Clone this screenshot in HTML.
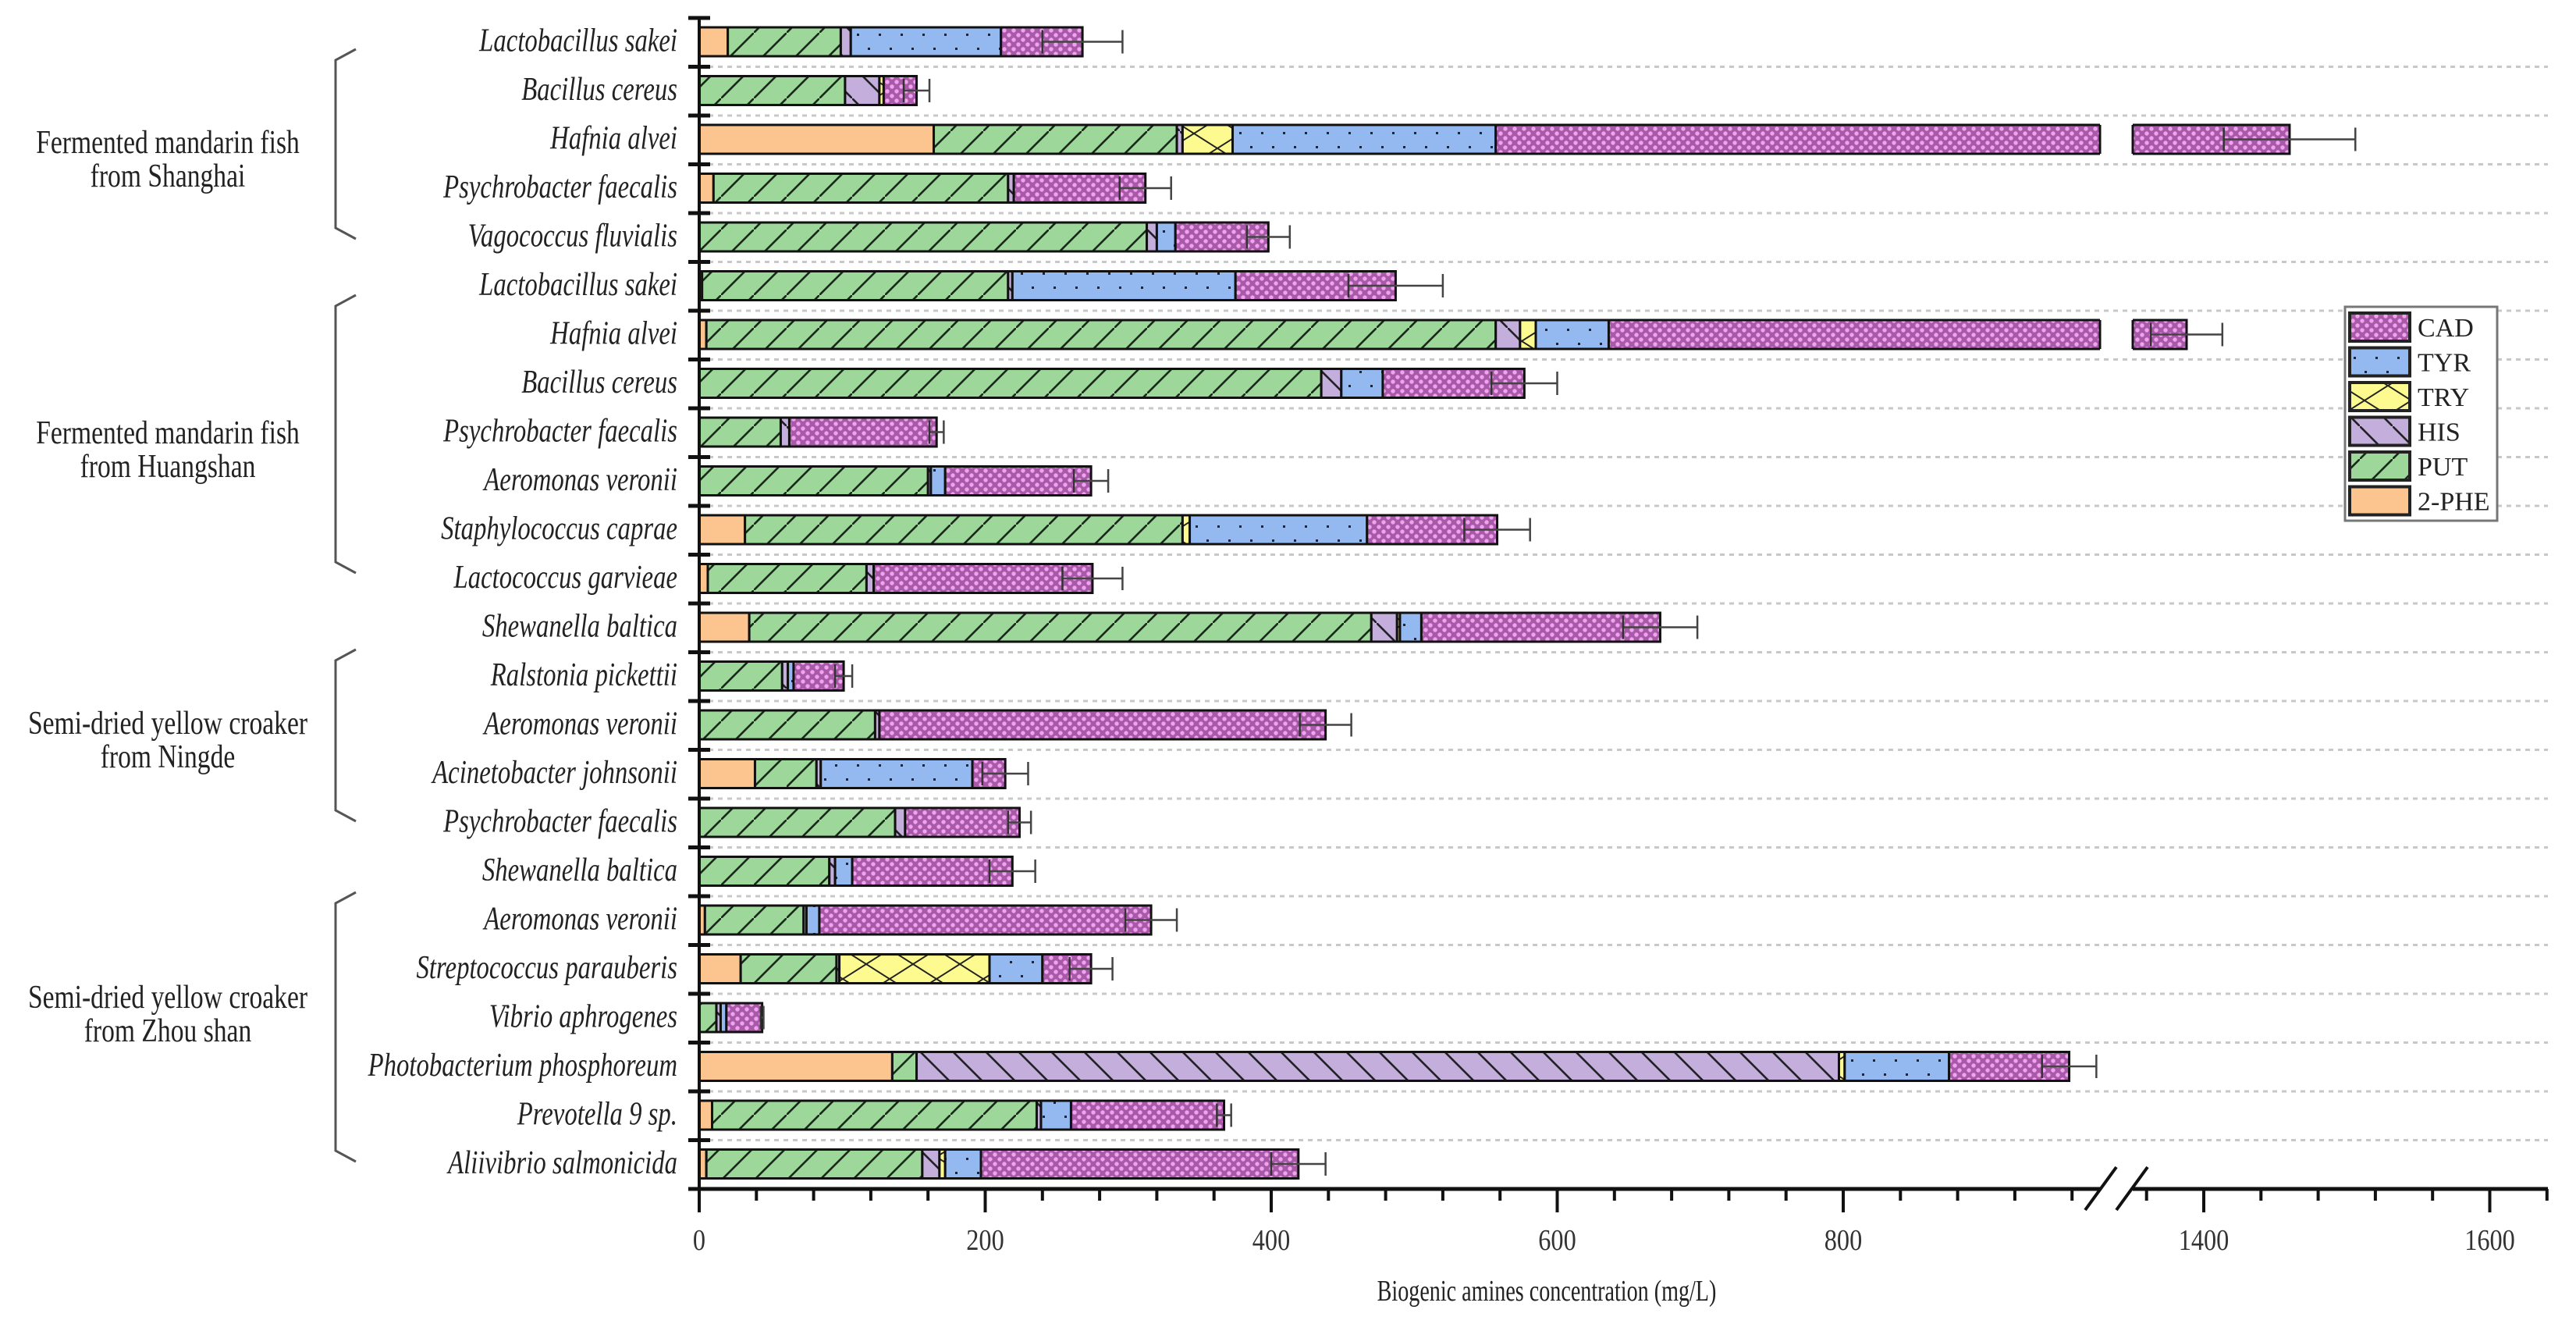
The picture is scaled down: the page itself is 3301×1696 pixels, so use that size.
<!DOCTYPE html>
<html><head><meta charset="utf-8"><title>Biogenic amines chart</title>
<style>
html,body{margin:0;padding:0;background:#fff;}
svg{display:block;font-family:"Liberation Serif","Times New Roman",serif;}
</style></head>
<body>
<svg id="chart" width="3301" height="1696" viewBox="0 0 3301 1696" xmlns="http://www.w3.org/2000/svg">
<defs>
  <pattern id="p-put" patternUnits="userSpaceOnUse" width="42" height="42">
    <rect width="42" height="42" fill="#9dd79a"/>
    <line x1="0" y1="42" x2="42" y2="0" stroke="#1a2a1a" stroke-width="2.6"/>
  </pattern>
  <pattern id="p-his" patternUnits="userSpaceOnUse" width="42" height="42">
    <rect width="42" height="42" fill="#c4afdc"/>
    <line x1="0" y1="0" x2="42" y2="42" stroke="#222" stroke-width="2.6"/>
  </pattern>
  <pattern id="p-try" patternUnits="userSpaceOnUse" width="60" height="38">
    <rect width="60" height="38" fill="#fdfb90"/>
    <line x1="0" y1="0" x2="60" y2="38" stroke="#222" stroke-width="2"/>
    <line x1="0" y1="38" x2="60" y2="0" stroke="#222" stroke-width="2"/>
  </pattern>
  <pattern id="p-tyr" patternUnits="userSpaceOnUse" width="28" height="36">
    <rect width="28" height="36" fill="#94b8f0"/>
    <rect x="6" y="7" width="3" height="3" fill="#223"/>
    <rect x="20" y="25" width="3" height="3" fill="#223"/>
  </pattern>
  <pattern id="p-cad" patternUnits="userSpaceOnUse" width="12" height="12">
    <rect width="12" height="12" fill="#a85aa8"/>
    <circle cx="3" cy="3" r="2.7" fill="#f0a2ee"/>
    <circle cx="9" cy="9" r="2.7" fill="#f0a2ee"/>
  </pattern>
</defs>
<g id="grid"></g>
<g id="bars"></g>
<g id="axes"></g>
<g id="labels"></g>
<g id="groups"></g>
<text transform="translate(1982,1666) scale(0.74,1)" font-size="38" text-anchor="middle" fill="#222">Biogenic amines concentration (mg/L)</text>
<g id="legend"></g>
</svg>
<script>
const categories = ["Lactobacillus sakei","Bacillus cereus","Hafnia alvei","Psychrobacter faecalis","Vagococcus fluvialis","Lactobacillus sakei","Hafnia alvei","Bacillus cereus","Psychrobacter faecalis","Aeromonas veronii","Staphylococcus caprae","Lactococcus garvieae","Shewanella baltica","Ralstonia pickettii","Aeromonas veronii","Acinetobacter johnsonii","Psychrobacter faecalis","Shewanella baltica","Aeromonas veronii","Streptococcus parauberis","Vibrio aphrogenes","Photobacterium phosphoreum","Prevotella 9 sp.","Aliivibrio salmonicida"];
const phe = [20,0,164,10,0,2,5,0,0,0,32,6,35,0,0,39,0,0,4,29,0,135,9,5];
const put = [79,102,170,206,313,214,552,435,57,160,306,111,435,58,123,43,137,91,69,67,12,17,227,151];
const his = [7,24,4,4,7,3,17,14,6,2,0,5,18,4,3,3,7,4,2,2,3,645,3,12];
const tryp = [0,3,35,0,0,0,11,0,0,0,5,0,2,0,0,0,0,0,0,105,0,4,0,4];
const tyr = [105,0,184,0,13,156,51,29,0,10,124,0,15,4,0,106,0,12,9,37,4,73,21,25];
const cad = [57,23,903,92,65,112,752,99,103,102,91,153,167,35,312,23,80,112,232,34,25,84,107,222];
const errs = [28,9,46,18,15,33,25,23,5,12,23,21,26,6,18,16,8,16,18,15,1,19,5,19];
const seriesNames = ["2-PHE","PUT","HIS","TRY","TYR","CAD"];
const legendOrder = ["CAD","TYR","TRY","HIS","PUT","2-PHE"];
const xMajorTicks = [0,200,400,600,800,1400,1600];
const groupNames = [["Fermented mandarin fish","from Shanghai"],["Fermented mandarin fish","from Huangshan"],["Semi-dried yellow croaker","from Ningde"],["Semi-dried yellow croaker","from Zhou shan"]];

const NS="http://www.w3.org/2000/svg";
const X0=896, K=1.8325, BREAK_L=2691, BREAK_R=2733, AXIS_END=3265, AXIS_Y=1523;
const ROW0=53.5, ROWH=62.5, BARH=37;
function x(v){ return v<=1200 ? X0+v*K : 2824+(v-1400)*K; }
function rowY(i){ return ROW0+i*ROWH; }
function mk(tag,attrs,parent){const e=document.createElementNS(NS,tag);for(const k in attrs)e.setAttribute(k,attrs[k]);parent.appendChild(e);return e;}
const fills={"2-PHE":"#fcc590","PUT":"url(#p-put)","HIS":"url(#p-his)","TRY":"url(#p-try)","TYR":"url(#p-tyr)","CAD":"url(#p-cad)"};
const series=[phe,put,his,tryp,tyr,cad];

const grid=document.getElementById('grid');
for(let k=1;k<categories.length;k++){
  const y=23+k*ROWH;
  const l=mk('line',{x1:X0,y1:y,x2:AXIS_END,y2:y,stroke:'#c8c8c8','stroke-width':3,'stroke-dasharray':'6 6'},grid);
  
  
}

const bars=document.getElementById('bars');
categories.forEach((c,i)=>{
  const g=mk('g',{},bars);
  
  
  const yt=rowY(i)-BARH/2;
  let cum=0;
  series.forEach((s,j)=>{
    const v=s[i]; if(v<=0) return;
    const x1=x(cum), x2=x(cum+v);
    const r=mk('rect',{x:x1,y:yt,width:Math.max(x2-x1,0.5),height:BARH,fill:fills[seriesNames[j]],stroke:'#111','stroke-width':3},g);
    
    
    cum+=v;
  });
  if(cum>1000){
    mk('rect',{x:BREAK_L,y:yt-3,width:BREAK_R-BREAK_L,height:BARH+6,fill:'#fff'},g);
    mk('line',{x1:BREAK_L,y1:yt,x2:BREAK_L,y2:yt+BARH,stroke:'#111','stroke-width':3},g);
    mk('line',{x1:BREAK_R,y1:yt,x2:BREAK_R,y2:yt+BARH,stroke:'#111','stroke-width':3},g);
  }
  const e=errs[i], cy=rowY(i);
  const eg=mk('g',{stroke:'#444','stroke-width':2.5},g);
  
  
  mk('line',{x1:x(cum-e),y1:cy,x2:x(cum+e),y2:cy},eg);
  mk('line',{x1:x(cum+e),y1:cy-15,x2:x(cum+e),y2:cy+15},eg);
  mk('line',{x1:x(cum-e),y1:cy-15,x2:x(cum-e),y2:cy+15,stroke:'#333'},eg);
});

const axes=document.getElementById('axes');
mk('line',{x1:X0,y1:22,x2:X0,y2:AXIS_Y+30,stroke:'#111','stroke-width':4},axes);
for(let k=0;k<=categories.length;k++){const y=23+k*ROWH;mk('line',{x1:882,y1:y,x2:910,y2:y,stroke:'#111','stroke-width':5},axes);}
mk('line',{x1:X0,y1:AXIS_Y,x2:2692,y2:AXIS_Y,stroke:'#111','stroke-width':5},axes);
mk('line',{x1:2733,y1:AXIS_Y,x2:AXIS_END,y2:AXIS_Y,stroke:'#111','stroke-width':5},axes);
mk('line',{x1:2672,y1:1550,x2:2712,y2:1495,stroke:'#111','stroke-width':4},axes);
mk('line',{x1:2712,y1:1550,x2:2752,y2:1495,stroke:'#111','stroke-width':4},axes);
const tickVals=[];
for(let v=40;v<=960;v+=40) tickVals.push(v);
for(let v=1360;v<=1640;v+=40) tickVals.push(v);
tickVals.forEach(v=>{const major=xMajorTicks.indexOf(v)>=0;mk('line',{x1:x(v),y1:AXIS_Y,x2:x(v),y2:AXIS_Y+(major?30:15),stroke:'#111','stroke-width':4},axes);});
xMajorTicks.forEach(v=>{
  const t=mk('text',{transform:`translate(${x(v)},1601) scale(0.85,1)`,'font-size':38,'text-anchor':'middle',fill:'#333'},axes);
  t.textContent=v;
  
  
});

const labels=document.getElementById('labels');
categories.forEach((c,i)=>{
  const t=mk('text',{transform:`translate(868,${rowY(i)+12}) scale(0.78,1)`,'font-size':42,'font-style':'italic','text-anchor':'end',fill:'#222'},labels);
  t.textContent=c;
  
  
});

const groups=document.getElementById('groups');
const groupCenters=[205,577,949,1300];
const bracketSpans=[[63,306],[378,734],[832,1052],[1143,1488]];
groupNames.forEach((lines,gi)=>{
  const g=mk('g',{},groups);
  
  
  lines.forEach((ln,li)=>{
    const t=mk('text',{transform:`translate(215,${groupCenters[gi]-21+li*43+12}) scale(0.8,1)`,'font-size':42,'text-anchor':'middle',fill:'#222'},g);
    t.textContent=ln;
  });
  const [a,b]=bracketSpans[gi];
  mk('polyline',{points:`456,${a} 430,${a+14} 430,${b-14} 456,${b}`,fill:'none',stroke:'#555','stroke-width':3},g);
});

const legend=document.getElementById('legend');
mk('rect',{x:3005,y:393,width:195,height:274,fill:'#fff',stroke:'#777','stroke-width':3},legend);
legendOrder.forEach((n,k)=>{
  const y=401+k*44.5;
  const g=mk('g',{},legend);
  
  
  mk('rect',{x:3011,y:y,width:77,height:36,fill:fills[n],stroke:'#222','stroke-width':4},g);
  const t=mk('text',{x:3098,y:y+30,'font-size':34,fill:'#222'},g);
  t.textContent=n;
});
</script>
</body></html>
